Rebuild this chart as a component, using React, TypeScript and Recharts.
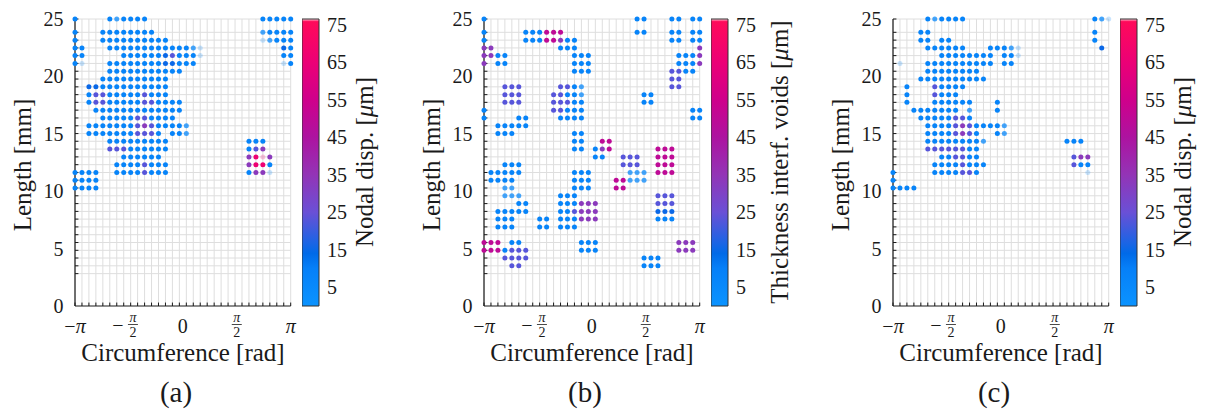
import React from "react";
import { ScatterChart, Scatter, XAxis, YAxis, ReferenceLine, BarChart, Bar } from "recharts";

const PI = Math.PI;
const N_COLS = 32;
// element centres around the circumference (-pi .. pi)
const COLS = Array.from({ length: N_COLS }, (_, k) => Math.min(PI, -PI + (2 * PI * k) / (N_COLS - 1)));
// element rows along the length, listed top to bottom (first row sits on the 25 mm edge)
const ROW_Y = [
  25, 23.84, 23.16, 22.48, 21.81, 21.13, 20.45, 19.77, 19.09, 18.41, 17.74, 17.06, 16.38, 15.7, 15.02, 14.35,
  13.67, 12.99, 12.31, 11.63, 10.96, 10.28, 9.6, 8.92, 8.24, 7.57, 6.89, 6.21, 5.53, 4.85, 4.18, 3.5, 2.82,
];

const X_LABEL_VALUES = [-PI, -PI / 2, 0, PI / 2, PI];
const X_LABEL_TEXT = ["−π", "−π/2", "0", "π/2", "π"];
const Y_LABELS = [0, 5, 10, 15, 20, 25];
const CB_TICKS = [5, 15, 25, 35, 45, 55, 65, 75];
const CB_MAX = 76.5;

// cell codes -> value in micrometres
const CODE_VALUE: Record<string, number> = { f: 6, c: 6, b: 8, d: 15, v: 23, p: 33, m: 50, r: 66, F: 66 };

// one string per row (top to bottom): "col[-col]code" runs
const ROWS_A = [
  "0b,5b,6c,7-10b,27-31b",
  "0b,4-11b,27c,28-31b",
  "0b,4-13b,27f,28c,29-31b",
  "0-1b,5-16b,17c,18f,30d,31b",
  "0-1b,7-12b,13d,14v,15-17b,18f,30-31b",
  "0b,1f,5-12b,13-14d,15-17b,30f,31b",
  "5-15b",
  "4-13b",
  "2-3d,4-13b",
  "2b,3-4v,5-9b,10v,11-13b",
  "2b,3-4v,5-9b,10-11v,12-15b",
  "3-15b",
  "4-8b,9-10v,11-14b",
  "2-8b,9v,10p,11v,12-15b,16c",
  "2-8b,9-11v,12b,14-15b,16c",
  "5-13b,25-27b",
  "5-7v,8-13b,25b,26v,27p",
  "7-12b,25p,26r,27F,28p",
  "6-9b,10v,11-13b,25p,26-27r,28b",
  "0-3b,6-9b,10v,11-13b,25b,26-27p,28f",
  "0-3b",
  "0-3b",
];

const ROWS_B = [
  "0b,22-23b,27-28b,30-31b",
  "0b,6-8b,9-11m,22-23b,27-28b,30-31b",
  "0b,6-8b,9-10m,11p,12-13b,27-28b,30-31b",
  "0-1p,11-13b,31p",
  "0-1p,2-3b,13-15b,28-30b,31p",
  "0p,2-3b,13-15b,28-30b,31p",
  "13-15b,27-28v,29-30b",
  "27-28v",
  "3-5v,11-12v,13b,14c,27-28v",
  "3-5v,10-11v,12-13b,14c,23-24b",
  "3-5v,10-12v,13-14b,23-24b",
  "0b,10-11v,12-14b,30-31b",
  "0b,5-6b,11-14b,30-31b",
  "2-6b",
  "2-4b,13-14b",
  "13-14b,17-18m",
  "13-14b,16b,17p,18m,25-27m",
  "16-17b,20-22v,25-27m",
  "3-5b,20-22v,25-27m",
  "1-5b,13-15b,21-23c,25-27m",
  "1-4b,13-15b,19-20m,21-23c",
  "3-4c,13-15b,19-20m",
  "3-5c,11-13b,25-27v",
  "5-6b,11-13b,14-16p,25-27v",
  "2-6b,11-12b,13v,14-16p,25-27d",
  "2-4b,8-9b,11-13b,14-16p,25-27b",
  "2-4b,8-9b,11-13b",
  "",
  "0-2m,4-5b,14-16b,28-30p",
  "0-2m,3b,4-6v,14-16b,28-30p",
  "3-6v,23-25b",
  "4-5v,23-25b",
  "",
];

const ROWS_C = [
  "5b,6c,7-10b,29b,30c,31f",
  "4-5b,29b",
  "4-5b,7-8b,29b",
  "5-10b,14-16b,17c,18f,30d",
  "7-14b,16-17b,18f",
  "1f,5-14b,16-17b",
  "5-12b",
  "4-13b",
  "2b,6v,7-10b",
  "2b,6v,7-9b",
  "2b,6-11b,15b",
  "3-9b,11c,15b",
  "4-8b,9-10v,11b",
  "5-8b,9v,10p,11v,12-15b,16c",
  "5-8b,9v,10p,11v,12b,15b,16c",
  "5-12b,13c,25-27b",
  "5-10v,11-12b",
  "7-8b,9-10v,11-12b,26v,27-28p",
  "6-9b,10v,11-13b,26v,27-28b",
  "0b,6-9b,10-11v,12b,28f",
  "0b",
  "0-3b",
];

// colormap of the colour bar
const CMAP: [number, string][] = [
  [0, "#0b93ff"],
  [10, "#0680f8"],
  [14, "#006ae8"],
  [17, "#1d64e4"],
  [25, "#6a50d6"],
  [35, "#9334b6"],
  [45, "#ad13a0"],
  [55, "#cf008b"],
  [65, "#ec0076"],
  [75.8, "#ff0a5a"],
  [76.5, "#ffd0dc"],
];
const CODE_ALPHA: Record<string, number> = { f: 0.22, c: 0.75, F: 0.22 };

const FONT = "Liberation Serif, DejaVu Serif, serif";
const INK = "#1a1a1a";
const GRID = "#dedede";
const DOT_R = 2.5;
const TXT = { fontFamily: FONT };

// small padding around the box so edge dots are not cut
const PAD_X = 0.1;
const PAD_Y = 0.3;
const TICK_DX = 0.1;
const TICK_DY = 0.3;

const PANELS = [
  { id: "a", left: 0, rows: ROWS_A, cbLabel: "Nodal disp.", cbX: 373 },
  { id: "b", left: 409, rows: ROWS_B, cbLabel: "Thickness interf. voids", cbX: 379 },
  { id: "c", left: 818, rows: ROWS_C, cbLabel: "Nodal disp.", cbX: 373 },
];

const near = (a: number, b: number) => Math.abs(a - b) < 1e-6;

function hex(c: string) {
  return [1, 3, 5].map((i) => parseInt(c.slice(i, i + 2), 16));
}

function colorFor(v: number) {
  for (let i = 1; i < CMAP.length; i++) {
    const [v1, c1] = CMAP[i];
    if (v <= v1) {
      const [v0, c0] = CMAP[i - 1];
      const t = (v - v0) / (v1 - v0);
      const a = hex(c0);
      const b = hex(c1);
      const m = a.map((x, j) => Math.round(x + (b[j] - x) * t));
      return `rgb(${m[0]},${m[1]},${m[2]})`;
    }
  }
  return CMAP[CMAP.length - 1][1];
}

function parseRows(rows: string[]) {
  const pts: { x: number; y: number; v: number; code: string }[] = [];
  rows.forEach((spec, r) => {
    if (!spec) return;
    spec.split(",").forEach((tok) => {
      const m = tok.trim().match(/^(\d+)(?:-(\d+))?([a-zA-Z])$/);
      if (!m) return;
      const a = +m[1];
      const b = m[2] ? +m[2] : a;
      for (let k = a; k <= b; k++) pts.push({ x: COLS[k], y: ROW_Y[r], v: CODE_VALUE[m[3]], code: m[3] });
    });
  });
  return pts;
}

function Dot(props: any) {
  const { cx, cy, payload } = props;
  if (cx == null || cy == null) return null;
  return (
    <circle cx={cx} cy={cy} r={DOT_R} fill={colorFor(payload.v)} fillOpacity={CODE_ALPHA[payload.code] ?? 1} />
  );
}

const NoDot = () => <g />;

function XLabel({ x, y, text }: { x: number; y: number; text: string }) {
  const neg = text.startsWith("−");
  const body = neg ? text.slice(1) : text;
  if (body.includes("/")) {
    const [num, den] = body.split("/");
    const fx = x + (neg ? 4 : 0);
    return (
      <g style={TXT} fill={INK}>
        {neg && (
          <text x={x - 11} y={y + 26} fontSize={20} textAnchor="middle" style={TXT}>
            −
          </text>
        )}
        <text x={fx} y={y + 16} fontSize={14} textAnchor="middle" fontStyle="italic" style={TXT}>
          {num}
        </text>
        <line x1={fx - 5} x2={fx + 5} y1={y + 18.5} y2={y + 18.5} stroke={INK} strokeWidth={0.8} />
        <text x={fx} y={y + 31} fontSize={14} textAnchor="middle" style={TXT}>
          {den}
        </text>
      </g>
    );
  }
  return (
    <text x={x} y={y + 27} fontSize={20} textAnchor="middle" style={TXT} fill={INK}>
      {neg && <tspan>−</tspan>}
      <tspan fontStyle={body === "π" ? "italic" : "normal"}>{body}</tspan>
    </text>
  );
}

function XTick(props: any) {
  const { x, y, payload } = props;
  const li = X_LABEL_VALUES.findIndex((t) => near(t, payload.value));
  if (li < 0) return null;
  return <XLabel x={x} y={y} text={X_LABEL_TEXT[li]} />;
}

function YTick(props: any) {
  const { x, y, payload } = props;
  return (
    <text x={x - 8} y={y} dy="0.35em" textAnchor="end" fontSize={20} style={TXT} fill={INK}>
      {payload.value}
    </text>
  );
}

function CbTick(props: any) {
  const { x, y, payload } = props;
  return (
    <text x={x} y={y} dy="0.35em" textAnchor="start" fontSize={20} style={TXT} fill={INK}>
      {payload.value}
    </text>
  );
}

// both layers share the same frame so the scales line up exactly
const CHART_W = 300;
const CHART_H = 414;
const CHART_MARGIN = { top: 15.56, right: 5.87, bottom: 0, left: 0 };

function Axes({ withTicks }: { withTicks: boolean }) {
  return (
    <>
      <XAxis
        type="number"
        dataKey="x"
        domain={[-PI - PAD_X, PI + PAD_X]}
        ticks={X_LABEL_VALUES}
        interval={0}
        height={108}
        tickSize={0}
        tickMargin={0}
        tickLine={false}
        axisLine={false}
        tick={withTicks ? <XTick /> : false}
      />
      <YAxis
        type="number"
        dataKey="y"
        domain={[0, 25 + PAD_Y]}
        ticks={Y_LABELS}
        interval={0}
        width={71.57}
        tickSize={0}
        tickMargin={0}
        tickLine={false}
        axisLine={false}
        tick={withTicks ? <YTick /> : false}
      />
    </>
  );
}

function Panel({ panel }: { panel: (typeof PANELS)[number] }) {
  const data = parseRows(panel.rows);
  const gid = `cb-grad-${panel.id}`;
  const seg = (x1: number, y1: number, x2: number, y2: number) => [
    { x: x1, y: y1 },
    { x: x2, y: y2 },
  ];

  return (
    <div style={{ position: "absolute", left: panel.left, top: 0, width: 409, height: 414 }}>
      {/* frame: grid, axis lines, tick marks and labels */}
      <div style={{ position: "absolute", left: 0, top: 0 }}>
        <ScatterChart width={CHART_W} height={CHART_H} margin={CHART_MARGIN}>
          {Axes({ withTicks: true })}
          {COLS.map((c, i) => (
            <ReferenceLine key={`gv${i}`} segment={seg(c, 0, c, 25)} stroke={GRID} strokeWidth={1} />
          ))}
          {ROW_Y.map((r, i) => (
            <ReferenceLine key={`gh${i}`} segment={seg(-PI, r, PI, r)} stroke={GRID} strokeWidth={1} />
          ))}
          {COLS.map((c, i) => (
            <ReferenceLine key={`tx${i}`} segment={seg(c, 0, c, TICK_DY)} stroke={INK} strokeWidth={1} />
          ))}
          {ROW_Y.map((r, i) => (
            <ReferenceLine key={`ty${i}`} segment={seg(-PI, r, -PI + TICK_DX, r)} stroke={INK} strokeWidth={1} />
          ))}
          <ReferenceLine segment={seg(-PI, 0, PI, 0)} stroke={INK} strokeWidth={1.2} />
          <ReferenceLine segment={seg(-PI, 0, -PI, 25)} stroke={INK} strokeWidth={1.2} />
          <Scatter data={data} shape={<NoDot />} isAnimationActive={false} />
        </ScatterChart>
      </div>
      {/* dots on top of the frame */}
      <div style={{ position: "absolute", left: 0, top: 0 }}>
        <ScatterChart width={CHART_W} height={CHART_H} margin={CHART_MARGIN}>
          {Axes({ withTicks: false })}
          <Scatter data={data} shape={<Dot />} isAnimationActive={false} />
        </ScatterChart>
      </div>
      <div style={{ position: "absolute", left: 301.7, top: 0 }}>
        <BarChart
          width={70}
          height={414}
          data={[{ name: "cb", top: CB_MAX }]}
          margin={{ top: 19, right: 0, bottom: 108, left: 0 }}
          barCategoryGap={0}
        >
          <defs>
            <linearGradient id={gid} x1="0" y1="1" x2="0" y2="0">
              {CMAP.map(([v, c]) => (
                <stop key={v} offset={v / CB_MAX} stopColor={c} />
              ))}
            </linearGradient>
          </defs>
          <XAxis dataKey="name" hide />
          <YAxis
            orientation="right"
            type="number"
            domain={[0, CB_MAX]}
            ticks={CB_TICKS}
            interval={0}
            width={53}
            axisLine={false}
            tickLine={false}
            tickSize={0}
            tickMargin={8}
            tick={<CbTick />}
          />
          <Bar dataKey="top" fill={`url(#${gid})`} stroke="#333" strokeWidth={1} isAnimationActive={false} />
        </BarChart>
      </div>
      <svg
        width={409}
        height={414}
        style={{ position: "absolute", left: 0, top: 0, pointerEvents: "none", overflow: "visible", fontFamily: FONT }}
        fill={INK}
      >
        <text transform="translate(31,165) rotate(-90)" textAnchor="middle" fontSize={25} style={TXT}>
          Length [mm]
        </text>
        <text x={183} y={361} textAnchor="middle" fontSize={25} style={TXT}>
          Circumference [rad]
        </text>
        <text x={176} y={402} textAnchor="middle" fontSize={29} style={TXT}>
          ({panel.id})
        </text>
        <text transform={`translate(${panel.cbX},162) rotate(-90)`} textAnchor="middle" fontSize={25} style={TXT}>
          {panel.cbLabel} [<tspan fontStyle="italic">μ</tspan>m]
        </text>
      </svg>
    </div>
  );
}

export default function App() {
  return (
    <div
      style={{ position: "absolute", left: 0, top: 0, width: 1207, height: 414, background: "#fff", fontFamily: FONT }}
    >
      {PANELS.map((p) => (
        <Panel key={p.id} panel={p} />
      ))}
    </div>
  );
}
